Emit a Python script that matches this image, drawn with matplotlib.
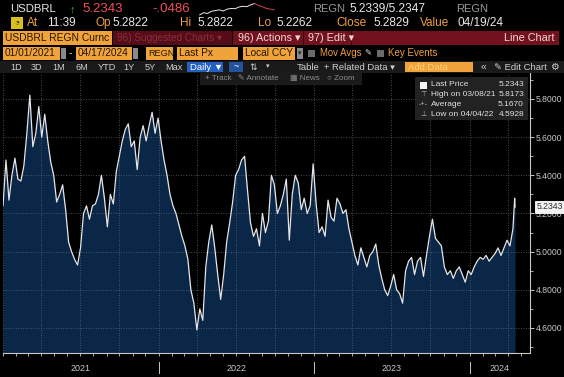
import pandas as pd
import matplotlib.pyplot as plt
import matplotlib.dates as mdates
import matplotlib.transforms as mtransforms
from matplotlib.patches import Rectangle
from matplotlib.ticker import FixedLocator, FormatStrFormatter

plt.rcParams['font.family'] = ['Liberation Sans', 'DejaVu Sans']

# USDBRL weekly closes, one per Friday starting 01/01/2021
px_2021 = [5.24, 5.48, 5.27, 5.40, 5.49, 5.38, 5.37, 5.45, 5.62, 5.82,
           5.55, 5.62, 5.76, 5.60, 5.72, 5.58, 5.47, 5.40, 5.26, 5.30,
           5.35, 5.22, 5.05, 5.00, 4.96, 4.93, 5.02, 5.20, 5.24, 5.17,
           5.24, 5.25, 5.30, 5.40, 5.28, 5.13, 5.30, 5.25, 5.42, 5.50,
           5.58, 5.64, 5.67, 5.55, 5.58, 5.43, 5.60, 5.66, 5.58, 5.66,
           5.73, 5.62, 5.70]
px_2022 = [5.58, 5.48, 5.40, 5.30, 5.24, 5.20, 5.14, 5.08, 5.03, 4.96,
           4.80, 4.73, 4.59, 4.70, 4.64, 4.92, 5.05, 5.14, 5.02, 4.88,
           4.75, 4.88, 5.05, 5.15, 5.26, 5.40, 5.43, 5.48, 5.50, 5.32,
           5.15, 5.08, 5.12, 5.03, 5.20, 5.10, 5.16, 5.40, 5.35, 5.20,
           5.24, 5.30, 5.38, 5.06, 5.30, 5.40, 5.36, 5.22, 5.28, 5.20,
           5.24, 5.46]
px_2023 = [5.25, 5.10, 5.13, 5.08, 5.27, 5.18, 5.16, 5.28, 5.25, 5.20,
           5.22, 5.12, 5.05, 4.98, 4.93, 5.02, 4.97, 4.92, 4.98, 5.00,
           5.04, 4.93, 4.86, 4.80, 4.77, 4.82, 4.88, 4.80, 4.78, 4.73,
           4.90, 4.95, 4.97, 4.88, 4.95, 4.97, 4.87, 4.98, 5.08, 5.17,
           5.07, 5.05, 5.03, 4.92, 4.88, 4.90, 4.86, 4.90, 4.92, 4.88,
           4.84, 4.90]
px_2024 = [4.88, 4.92, 4.95, 4.97, 4.96, 4.98, 4.95, 4.97, 4.99, 5.02,
           4.98, 5.02, 5.06, 5.03, 5.12]
tail_dates = ['2024-04-16', '2024-04-17']
tail_px = [5.28, 5.2343]

weekly_px = px_2021 + px_2022 + px_2023 + px_2024
dates = list(pd.date_range('2021-01-01', periods=len(weekly_px), freq='7D')) + list(pd.to_datetime(tail_dates))
prices = weekly_px + tail_px

y_ticks = [4.6, 4.8, 5.0, 5.2, 5.4, 5.6, 5.8]
y_minor = [4.5, 4.7, 4.9, 5.1, 5.3, 5.5, 5.7, 5.9]
years = [2021, 2022, 2023, 2024]
last_px = 5.2343
legend_rows = [('Last Price', '5.2343'), ('High on 03/08/21', '5.8173'),
               ('Average', '5.1670'), ('Low on 04/04/22', '4.5928')]
legend_icons = ['', '\u22a4', '-+-', '\u22a5']

# intraday sparkline in the header
spark_up = [0.15, 0.3, 0.25, 0.4, 0.45, 0.5, 0.42, 0.55, 0.6, 0.58, 0.7, 0.75, 0.72, 0.85, 0.95]
spark_down = [0.95, 0.8, 0.72, 0.6, 0.55, 0.5]

W, H = 564, 377
fig = plt.figure(figsize=(W / 100, H / 100), dpi=100, facecolor='black')


def fx(p):
    return p / W


def fy(p):
    return 1 - p / H


def box(x0, x1, y0, y1, color, z=0):
    fig.patches.append(Rectangle((fx(x0), fy(y1)), fx(x1) - fx(x0), fy(y0) - fy(y1),
                                 transform=fig.transFigure, facecolor=color,
                                 edgecolor='none', zorder=z))


def t(x, y, s, color, size=7.0, ha='left', **kw):
    fig.text(fx(x), fy(y), s, color=color, fontsize=size, ha=ha, va='center', **kw)


ORANGE = '#f0a33a'
ORANGE_TXT = '#eda040'
WHITE = '#e8e8e8'
RED = '#f0505a'

# ---- main chart ----
ax = fig.add_axes([fx(3), fy(353), fx(530) - fx(3), fy(73) - fy(353)])
ax.set_facecolor('black')
ybot, ytop = 4.469, 5.936
ax.set_xlim(pd.Timestamp('2021-01-01'), pd.Timestamp('2024-05-22'))
ax.set_ylim(ybot, ytop)

ax.fill_between(dates, prices, ybot, color='#0b2747', lw=0, zorder=1)
ax.plot(dates, prices, color='#e4e6ea', lw=0.9, zorder=3)

ax.yaxis.tick_right()
ax.yaxis.set_major_locator(FixedLocator(y_ticks))
ax.yaxis.set_minor_locator(FixedLocator(y_minor))
ax.yaxis.set_major_formatter(FormatStrFormatter('%.4f'))
ax.tick_params(axis='y', which='major', colors='#c8c8c8', labelsize=6.2, length=3, width=0.7, pad=1)
ax.tick_params(axis='y', which='minor', colors='#c8c8c8', length=2, width=0.6)

ax.xaxis.set_major_locator(mdates.MonthLocator(bymonth=[1, 4, 7, 10]))
ax.xaxis.set_minor_locator(mdates.MonthLocator())
ax.tick_params(axis='x', which='both', colors='#c8c8c8', length=2, width=0.6, labelbottom=False)

ax.set_axisbelow(False)
ax.grid(True, which='major', color='#6f7785', lw=0.6, linestyle=(0, (1, 2)), alpha=0.8)

for side in ['top', 'left']:
    ax.spines[side].set_visible(False)
for side in ['right', 'bottom']:
    ax.spines[side].set_color('#c8c8c8')
    ax.spines[side].set_linewidth(0.8)

# year labels centred on visible part of each year, separators at year starts
trans = mtransforms.blended_transform_factory(ax.transData, ax.transAxes)
xmin, xmax = ax.get_xlim()
for yr in years:
    a = max(mdates.date2num(pd.Timestamp(f'{yr}-01-01')), xmin)
    b = min(mdates.date2num(pd.Timestamp(f'{yr + 1}-01-01')), xmax)
    ax.text((a + b) / 2, -0.057, str(yr), transform=trans, ha='center', va='center',
            color='#c8c8c8', fontsize=6.5)
    if yr > years[0]:
        ax.plot([a, a], [-0.032, -0.072], transform=trans, color='#c8c8c8', lw=0.7, clip_on=False)

# last price tag on right axis
ytrans = mtransforms.blended_transform_factory(ax.transAxes, ax.transData)
ax.text(1.012, last_px, f'{last_px:.4f}', transform=ytrans, ha='left', va='center',
        color='#303030', fontsize=6.2, zorder=6,
        bbox=dict(boxstyle='square,pad=0.15', fc='#f2f2f2', ec='white', lw=0.6))

# chart toolbar overlay
box(200, 362, 72, 85, '#1b1b1b', z=5)
for x, s in [(205, '+ Track'), (238, '\u270e Annotate'), (290, '\u25a6 News'), (327, '\u25cb Zoom')]:
    t(x, 78.5, s, '#8c8c8c', 5.8, zorder=6)

# legend panel
box(415, 528, 77, 120, '#222222', z=5)
for i, ((lab, val), ic) in enumerate(zip(legend_rows, legend_icons)):
    yy = 85 + i * 9.7
    if i == 0:
        box(420, 427, yy - 3.5, yy + 3.5, '#f4f4f4', z=6)
    else:
        t(423.5, yy, ic, '#b0b0b0', 5.2, ha='center', zorder=6)
    t(431, yy, lab, '#e0e0e0', 6.0, zorder=6)
    t(524, yy, val, '#e0e0e0', 6.0, ha='right', zorder=6)

# ---- header rows ----
# row 1
t(10, 9, 'USDBRL', WHITE, 8.2)
t(70, 9, '\u2191', '#3dbb4a', 8)
t(82, 9, '5.2343', RED, 9.5)
t(152, 9, '-.0486', RED, 9.5)
sax = fig.add_axes([fx(196), fy(17), fx(82), 15 / H])
sax.plot(range(len(spark_up)), spark_up, color='#e8e8e8', lw=0.7)
sax.plot(range(len(spark_up) - 1, len(spark_up) - 1 + len(spark_down)), spark_down, color='#d04050', lw=0.7)
sax.set_ylim(0, 1.05)
sax.axis('off')
t(313, 9, 'REGN', '#9a9a9a', 8)
t(349, 9, '5.2339/5.2347', WHITE, 8.6)
t(456, 9, 'REGN', '#9a9a9a', 8)

# row 2
box(11, 23, 17, 29, '#d8c020')
t(17, 23, '\u25d4', '#202020', 6, ha='center')
for x, s, c in [(27, 'At', ORANGE_TXT), (47, '11:39', WHITE), (95, 'Op', ORANGE_TXT),
                (112, '5.2822', WHITE), (180, 'Hi', ORANGE_TXT), (197, '5.2822', WHITE),
                (258, 'Lo', ORANGE_TXT), (276, '5.2262', WHITE), (336, 'Close', ORANGE_TXT),
                (373, '5.2829', WHITE), (420, 'Value', ORANGE_TXT), (458, '04/19/24', WHITE)]:
    t(x, 23, s, c, 8.5)

# row 3
box(3, 112, 31, 45, ORANGE)
t(5, 38, 'USDBRL REGN Curnc', '#241400', 7.4)
box(113, 232, 31, 45, '#560c16')
t(117, 38, '96) Suggested Charts \u25be', '#86303c', 7.2)
box(233, 559, 31, 45, '#72121e')
box(303, 304, 31, 45, '#3a060c')
box(351, 352, 31, 45, '#3a060c')
t(238, 38, '96) Actions \u25be', '#f3d8d8', 7.8)
t(308, 38, '97) Edit \u25be', '#f3d8d8', 7.8)
t(555, 38, 'Line Chart', '#f3d8d8', 7.8, ha='right')

# row 4
for x0, x1, s, sz in [(3, 60, '01/01/2021', 7.3), (76, 132, '04/17/2024', 7.3), (146, 173, 'REGN', 6.6),
                      (177, 238, 'Last Px', 7.3), (243, 295, 'Local CCY', 7.3)]:
    box(x0, x1, 47, 60, ORANGE)
    t(x0 + 2, 53.5, s, '#241400', sz)
for x0, x1 in [(61, 66), (133, 138), (297, 303)]:
    box(x0, x1, 48, 59, '#8a8a8a')
t(300, 53.5, '\u25be', '#202020', 5, ha='center')
t(69, 53.5, '-', WHITE, 7.2)
box(308, 315, 50, 57, '#6a6a6a')
t(320, 53.5, 'Mov Avgs', ORANGE_TXT, 6.9)
t(364, 53.5, '\u270e', WHITE, 6.0)
box(377, 384, 50, 57, '#6a6a6a')
t(388, 53.5, 'Key Events', ORANGE_TXT, 7.0)

# row 5
box(0, 564, 61, 73, '#1a1a1a')
for x, s in [(10, '1D'), (31, '3D'), (52, '1M'), (75, '6M'), (98, 'YTD'),
             (123, '1Y'), (145, '5Y'), (165, 'Max')]:
    t(x, 67, s, '#cfcfcf', 6.6)
box(187, 223, 62, 72, '#2360c0')
t(190, 67, 'Daily \u25bc', 'white', 6.8)
box(229, 243, 62, 72, '#24529c')
t(236, 67, '~', 'white', 6.5, ha='center')
t(249, 67, '\u21c5', '#cfcfcf', 6.5)
t(266, 67, '\u25be', '#cfcfcf', 5)
t(297, 67, 'Table', '#cfcfcf', 6.8)
t(324, 67, '+ Related Data \u25be', '#cfcfcf', 6.8)
box(405, 473, 62, 72, ORANGE)
t(408, 67, 'Add Data', '#ffd27a', 6.8)
t(481, 67, '\u00ab', '#cfcfcf', 7.5)
t(494, 67, '\u270e Edit Chart', '#cfcfcf', 6.8)
t(550, 67, '\u2699', '#cfcfcf', 7)

fig.savefig('out.png', dpi=100, facecolor='black')
